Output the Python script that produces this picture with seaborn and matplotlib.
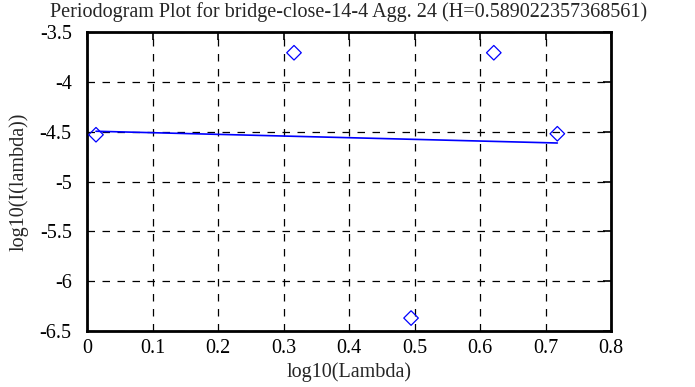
import matplotlib.pyplot as plt
import numpy as np
import pandas as pd
import seaborn as sns

# periodogram points (log10 lambda, log10 I(lambda))
log_lambda = [0.0137, 0.316, 0.4947, 0.621, 0.718]
log_I = [-4.53, -3.707, -6.37, -3.707, -4.52]

# fitted line end points
fit_x = [0.0137, 0.718]
fit_y = [-4.495, -4.613]

x_ticks = [0, 0.1, 0.2, 0.3, 0.4, 0.5, 0.6, 0.7, 0.8]
y_ticks = [-6.5, -6, -5.5, -5, -4.5, -4, -3.5]

pts = pd.DataFrame({"x": log_lambda, "y": log_I})
fit = pd.DataFrame({"x": fit_x, "y": fit_y})

sns.set_style("white")
plt.rcParams["font.family"] = ["Liberation Serif", "DejaVu Serif"]

fig = plt.figure(figsize=(6.95, 3.87), dpi=100)
ax = fig.add_axes([0.1252, 0.1447, 0.754, 0.7723])

sns.scatterplot(data=pts, x="x", y="y", marker="D", s=55, facecolors="none",
                edgecolor="blue", linewidth=0.9, ax=ax, zorder=3)
sns.lineplot(data=fit, x="x", y="y", color="blue", linewidth=1.2, ax=ax, zorder=2)

ax.set_xlim(0, 0.8)
ax.set_ylim(-6.5, -3.5)
ax.set_xticks(x_ticks)
ax.set_yticks(y_ticks)
ax.set_xticklabels([f"{v:g}" for v in x_ticks])
ax.set_yticklabels([f"{v:g}" for v in y_ticks])
ax.grid(True, color="black", linestyle=(0, (6, 6)), linewidth=0.9)
ax.tick_params(direction="in", top=True, right=True, length=6, width=1.2,
               labelsize=14.5, colors="black")
ax.tick_params(axis="y", pad=11)
ax.tick_params(axis="x", pad=6)
for s in ax.spines.values():
    s.set_linewidth(2)
    s.set_color("black")

ax.set_title("Periodogram Plot for bridge-close-14-4 Agg. 24 (H=0.589022357368561)",
             fontsize=14.5, pad=11)
ax.set_xlabel("log10(Lambda)", fontsize=14.5, labelpad=3)
ax.set_ylabel("log10(I(lambda))", fontsize=14.5, labelpad=8)

fig.savefig("out.png", dpi=100)
